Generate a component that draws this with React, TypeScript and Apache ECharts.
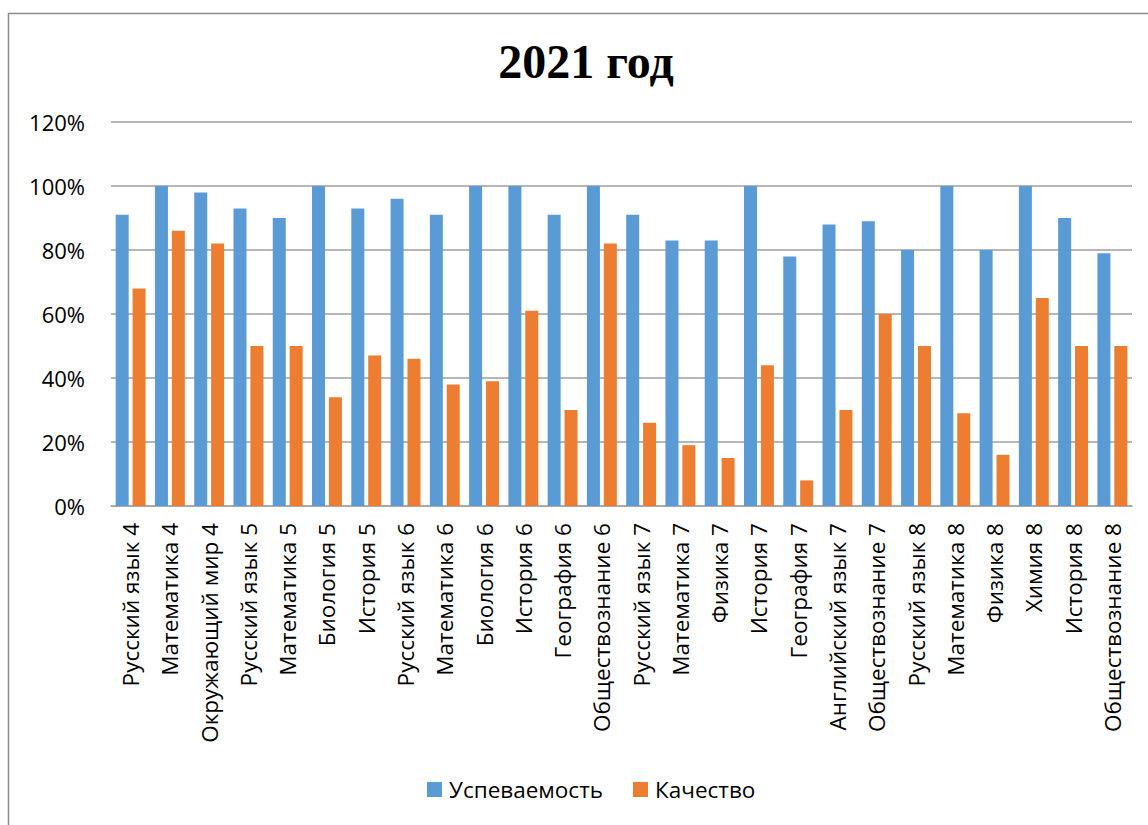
import React, { useEffect, useRef } from "react";
import * as echarts from "echarts";

const categories = [
  "Русский язык 4", "Математика 4", "Окружающий мир 4", "Русский язык 5", "Математика 5",
  "Биология 5", "История 5", "Русский язык 6", "Математика 6", "Биология 6", "История 6",
  "География 6", "Обществознание 6", "Русский язык 7", "Математика 7", "Физика 7",
  "История 7", "География 7", "Английский язык 7", "Обществознание 7", "Русский язык 8",
  "Математика 8", "Физика 8", "Химия 8", "История 8", "Обществознание 8",
];
const uspevaemost = [
  0.91, 1.0, 0.98, 0.93, 0.9, 1.0, 0.93, 0.96, 0.91, 1.0, 1.0, 0.91, 1.0, 0.91, 0.83, 0.83,
  1.0, 0.78, 0.88, 0.89, 0.8, 1.0, 0.8, 1.0, 0.9, 0.79,
];
const kachestvo = [
  0.68, 0.86, 0.82, 0.5, 0.5, 0.34, 0.47, 0.46, 0.38, 0.39, 0.61, 0.3, 0.82, 0.26, 0.19, 0.15,
  0.44, 0.08, 0.3, 0.6, 0.5, 0.29, 0.16, 0.65, 0.5, 0.5,
];
const seriesNames = ["Успеваемость", "Качество"];
const title = "2021 год";

export default function App() {
  const ref = useRef<HTMLDivElement>(null);
  useEffect(() => {
    if (!ref.current) return;
    const chart = echarts.init(ref.current, undefined, { renderer: "svg" });
    const font = "'Open Sans', 'Noto Sans', sans-serif";
    chart.setOption({
      animation: false,
      backgroundColor: "#ffffff",
      title: {
        text: title,
        left: 581,
        textAlign: "center",
        top: 32,
        textStyle: {
          fontFamily: "'Liberation Serif', 'Times New Roman', serif",
          fontWeight: "bold",
          fontSize: 48,
          color: "#000",
        },
      },
      graphic: [
        {
          type: "rect",
          shape: { x: 8.5, y: 13.5, width: 1160, height: 830 },
          style: { fill: "none", stroke: "#8c8c8c", lineWidth: 1.5 },
          silent: true,
        },
      ],
      legend: {
        bottom: 19,
        left: 422,
        itemWidth: 15,
        itemHeight: 15,
        itemGap: 30,
        icon: "rect",
        textStyle: { fontFamily: font, fontSize: 22.5, color: "#000", padding: [0, 0, 0, 2] },
        data: seriesNames,
      },
      grid: { left: 111, right: 16, top: 122, bottom: 319, containLabel: false },
      xAxis: {
        type: "category",
        data: categories,
        axisLine: { lineStyle: { color: "#a6a6a6", width: 1.5 } },
        axisTick: { show: false },
        axisLabel: {
          rotate: 90,
          interval: 0,
          margin: 17,
          fontFamily: font,
          fontSize: 22.5,
          color: "#000",
        },
      },
      yAxis: {
        type: "value",
        min: 0,
        max: 1.2,
        interval: 0.2,
        axisLine: { show: false },
        axisTick: { show: false },
        splitLine: { lineStyle: { color: "#9e9e9e", width: 1.5 } },
        axisLabel: {
          margin: 26,
          fontFamily: font,
          fontSize: 22,
          color: "#000",
          formatter: (v: number) => Math.round(v * 100) + "%",
        },
      },
      series: [
        {
          name: seriesNames[0],
          type: "bar",
          data: uspevaemost,
          barWidth: 13,
          barGap: "30%",
          itemStyle: { color: "#5b9bd5" },
        },
        {
          name: seriesNames[1],
          type: "bar",
          data: kachestvo,
          barWidth: 13,
          itemStyle: { color: "#ed7d31" },
        },
      ],
    });
    return () => chart.dispose();
  }, []);
  return (
    <div
      ref={ref}
      style={{ position: "absolute", left: 0, top: 0, width: 1148, height: 825 }}
    />
  );
}
